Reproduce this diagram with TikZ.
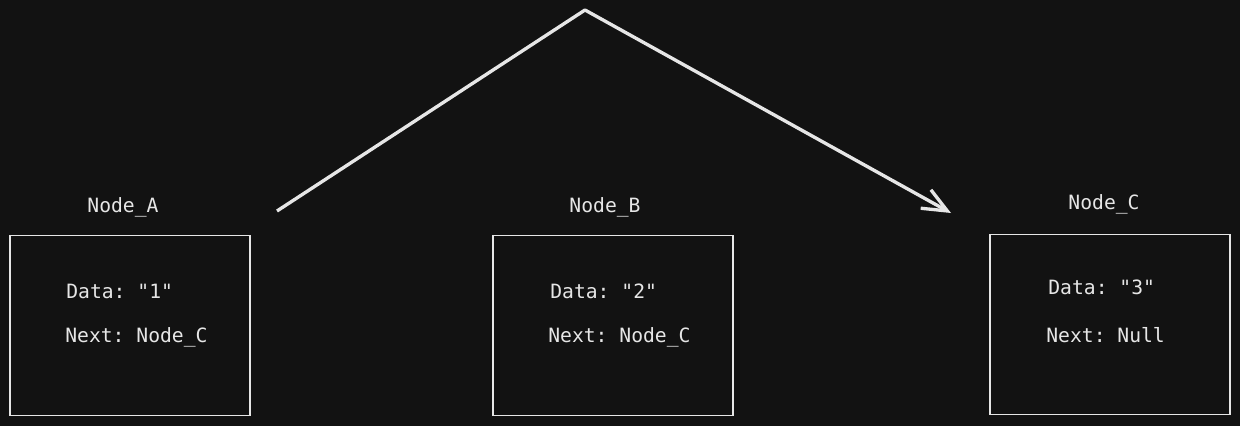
\documentclass[tikz,border=0pt]{standalone}
\usepackage{fontspec}
\setmonofont{DejaVu Sans Mono}
\usetikzlibrary{arrows.meta}
\definecolor{bgcol}{HTML}{121212}
\definecolor{inkcol}{HTML}{E6E6E6}

\begin{document}
\begin{tikzpicture}[x=0.02cm, y=-0.02cm,
  box/.style={draw=inkcol, line width=0.7pt, minimum width=4.8cm, minimum height=3.6cm, inner sep=0pt},
  txt/.style={text=inkcol, font=\ttfamily\fontsize{11.2}{13}\selectfont, inner sep=0pt},
  link/.style={draw=inkcol, line width=1.9pt, line join=round, -{Straight Barb[length=14pt, width=12pt, line width=1.9pt]}}]
 \fill[bgcol] (0,0) rectangle (1240,426);

 \node[box] (boxA) at (130,325.5) {};
 \node[box] (boxB) at (613,325.5) {};
 \node[box] (boxC) at (1110,324.5) {};

 \node[txt] (labelA) at (123,207) {Node\_A};
 \node[txt] (labelB) at (605,207) {Node\_B};
 \node[txt] (labelC) at (1104,204) {Node\_C};

 \node[txt, anchor=west] (dataA) at (66,291) {Data: "1"};
 \node[txt, anchor=west] (nextA) at (65,337) {Next: Node\_C};
 \node[txt, anchor=west] (dataB) at (550,291) {Data: "2"};
 \node[txt, anchor=west] (nextB) at (548,337) {Next: Node\_C};
 \node[txt, anchor=west] (dataC) at (1048,287) {Data: "3"};
 \node[txt, anchor=west] (nextC) at (1046,335) {Next: Null};

 \coordinate (start) at (277,211);
 \coordinate (apex) at (585,10);
 \coordinate (tip) at (951,213);
 \draw[link] (start) -- (apex) -- (tip);
\end{tikzpicture}
\end{document}
